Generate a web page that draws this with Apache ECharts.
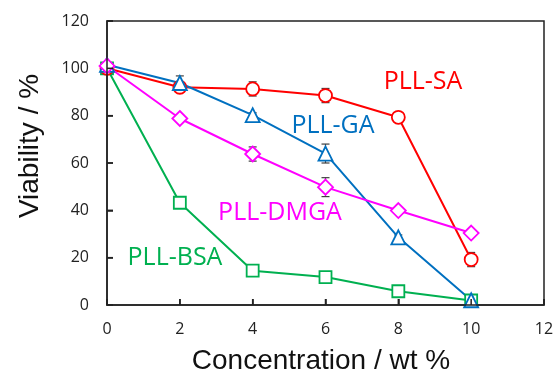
<!DOCTYPE html>
<html><head><meta charset="utf-8">
<script src="https://cdn.jsdelivr.net/npm/echarts@6/dist/echarts.min.js"></script>
<style>html,body{margin:0;padding:0;background:#fff}#c{width:557px;height:375px}</style>
</head><body><div id="c"></div>
<script>
const xValues = [0, 2, 4, 6, 8, 10];
const sa = [100, 92, 91.3, 88.5, 79.3, 19.2];
const saErr = [0, 1.5, 3, 3, 0.5, 3];
const ga = [101.5, 93.8, 80.2, 64, 28.6, 2];
const gaErr = [1, 3, 1, 4, 1, 0.5];
const dmga = [101, 78.8, 63.8, 49.8, 39.9, 30.4];
const dmgaErr = [1, 1, 3, 4, 1, 1];
const bsa = [100, 43.2, 14.5, 11.8, 5.8, 1.9];
const bsaErr = [0, 1, 1, 2, 1, 0.5];
const yTicks = [0, 20, 40, 60, 80, 100, 120];
const xTicks = [0, 2, 4, 6, 8, 10, 12];

const pairs = (ys) => xValues.map((x, i) => [x, ys[i]]);
const errData = (ys, es) => xValues.map((x, i) => [x, ys[i] - es[i], ys[i] + es[i]]);

function errSeries(ys, es) {
  return {
    type: 'custom', z: 1, silent: true,
    data: errData(ys, es),
    renderItem: function (params, api) {
      const lo = api.coord([api.value(0), api.value(1)]);
      const hi = api.coord([api.value(0), api.value(2)]);
      const w = 4;
      const st = { stroke: '#404040', lineWidth: 1.2 };
      return { type: 'group', children: [
        { type: 'line', shape: { x1: lo[0], y1: lo[1], x2: hi[0], y2: hi[1] }, style: st },
        { type: 'line', shape: { x1: lo[0] - w, y1: lo[1], x2: lo[0] + w, y2: lo[1] }, style: st },
        { type: 'line', shape: { x1: hi[0] - w, y1: hi[1], x2: hi[0] + w, y2: hi[1] }, style: st }
      ]};
    }
  };
}
function lineSeries(name, ys, color, symbol, size) {
  return {
    name, type: 'line', data: pairs(ys), z: 3,
    symbol, symbolSize: size, showAllSymbol: true,
    lineStyle: { color, width: 2 },
    itemStyle: { color: '#fff', borderColor: color, borderWidth: 1.8 },
    emphasis: { disabled: true }
  };
}

const axisCol = '#222';
const tickFont = { fontFamily: 'Open Sans', fontSize: 16, color: '#222' };
const chart = echarts.init(document.getElementById('c'), null, { renderer: 'canvas' });
chart.setOption({
  animation: false,
  grid: { left: 107, right: 13, top: 21, bottom: 70, outerBoundsMode: 'none', containLabel: false },
  xAxis: {
    type: 'value', min: 0, max: 12, interval: 2, position: 'bottom',
    axisLine: { show: true, onZero: false, lineStyle: { color: axisCol, width: 1.5 } },
    axisTick: { show: true, inside: true, length: 6, lineStyle: { color: axisCol, width: 1.5 } },
    axisLabel: Object.assign({ margin: 16, formatter: v => xTicks.includes(v) ? String(v) : '' }, tickFont),
    splitLine: { show: false }
  },
  yAxis: {
    type: 'value', min: 0, max: 120, interval: 20, position: 'left',
    axisLine: { show: true, onZero: false, lineStyle: { color: axisCol, width: 1.5 } },
    axisTick: { show: true, inside: true, length: 6, lineStyle: { color: axisCol, width: 1.5 } },
    axisLabel: Object.assign({ margin: 18, formatter: v => yTicks.includes(v) ? String(v) : '' }, tickFont),
    splitLine: { show: false }
  },
  series: [
    errSeries(sa, saErr), errSeries(ga, gaErr), errSeries(dmga, dmgaErr), errSeries(bsa, bsaErr),
    lineSeries('PLL-BSA', bsa, '#00B050', 'rect', 12),
    lineSeries('PLL-SA', sa, '#FF0000', 'circle', 13),
    lineSeries('PLL-GA', ga, '#0070C0', 'triangle', 14),
    lineSeries('PLL-DMGA', dmga, '#FF00FF', 'diamond', 15)
  ]
});

// frame and ticks placed through the chart's own scales
const p0 = chart.convertToPixel({ gridIndex: 0 }, [0, 0]);
const p1 = chart.convertToPixel({ gridIndex: 0 }, [12, 120]);
const frameStyle = { stroke: axisCol, lineWidth: 1.5, fill: null };
const g = [
  { type: 'rect', z: 10, shape: { x: p0[0], y: p1[1], width: p1[0] - p0[0], height: p0[1] - p1[1] }, style: frameStyle, silent: true }
];
yTicks.forEach(v => {
  const p = chart.convertToPixel({ gridIndex: 0 }, [0, v]);
  g.push({ type: 'line', z: 10, silent: true, shape: { x1: p[0], y1: p[1], x2: p[0] + 6, y2: p[1] }, style: { stroke: axisCol, lineWidth: 1.5 } });
});
xTicks.forEach(v => {
  const p = chart.convertToPixel({ gridIndex: 0 }, [v, 0]);
  g.push({ type: 'line', z: 10, silent: true, shape: { x1: p[0], y1: p[1], x2: p[0], y2: p[1] - 6 }, style: { stroke: axisCol, lineWidth: 1.5 } });
});
g.push(
  { type: 'text', x: 321, y: 361, style: { text: 'Concentration / wt %', fill: '#111', font: '28px "Liberation Sans"', align: 'center', verticalAlign: 'middle' } },
  { type: 'text', x: 30, y: 146, rotation: Math.PI / 2, style: { text: 'Viability / %', fill: '#111', font: '28px "Liberation Sans"', align: 'center', verticalAlign: 'middle' } },
  { type: 'text', x: 423, y: 82, style: { text: 'PLL-SA', fill: '#FF0000', font: '25px "Open Sans"', align: 'center', verticalAlign: 'middle' } },
  { type: 'text', x: 333, y: 126, style: { text: 'PLL-GA', fill: '#0070C0', font: '25px "Open Sans"', align: 'center', verticalAlign: 'middle' } },
  { type: 'text', x: 280, y: 213, style: { text: 'PLL-DMGA', fill: '#FF00FF', font: '25px "Open Sans"', align: 'center', verticalAlign: 'middle' } },
  { type: 'text', x: 175, y: 258, style: { text: 'PLL-BSA', fill: '#00B050', font: '25px "Open Sans"', align: 'center', verticalAlign: 'middle' } }
);
chart.setOption({ graphic: g });
</script></body></html>
